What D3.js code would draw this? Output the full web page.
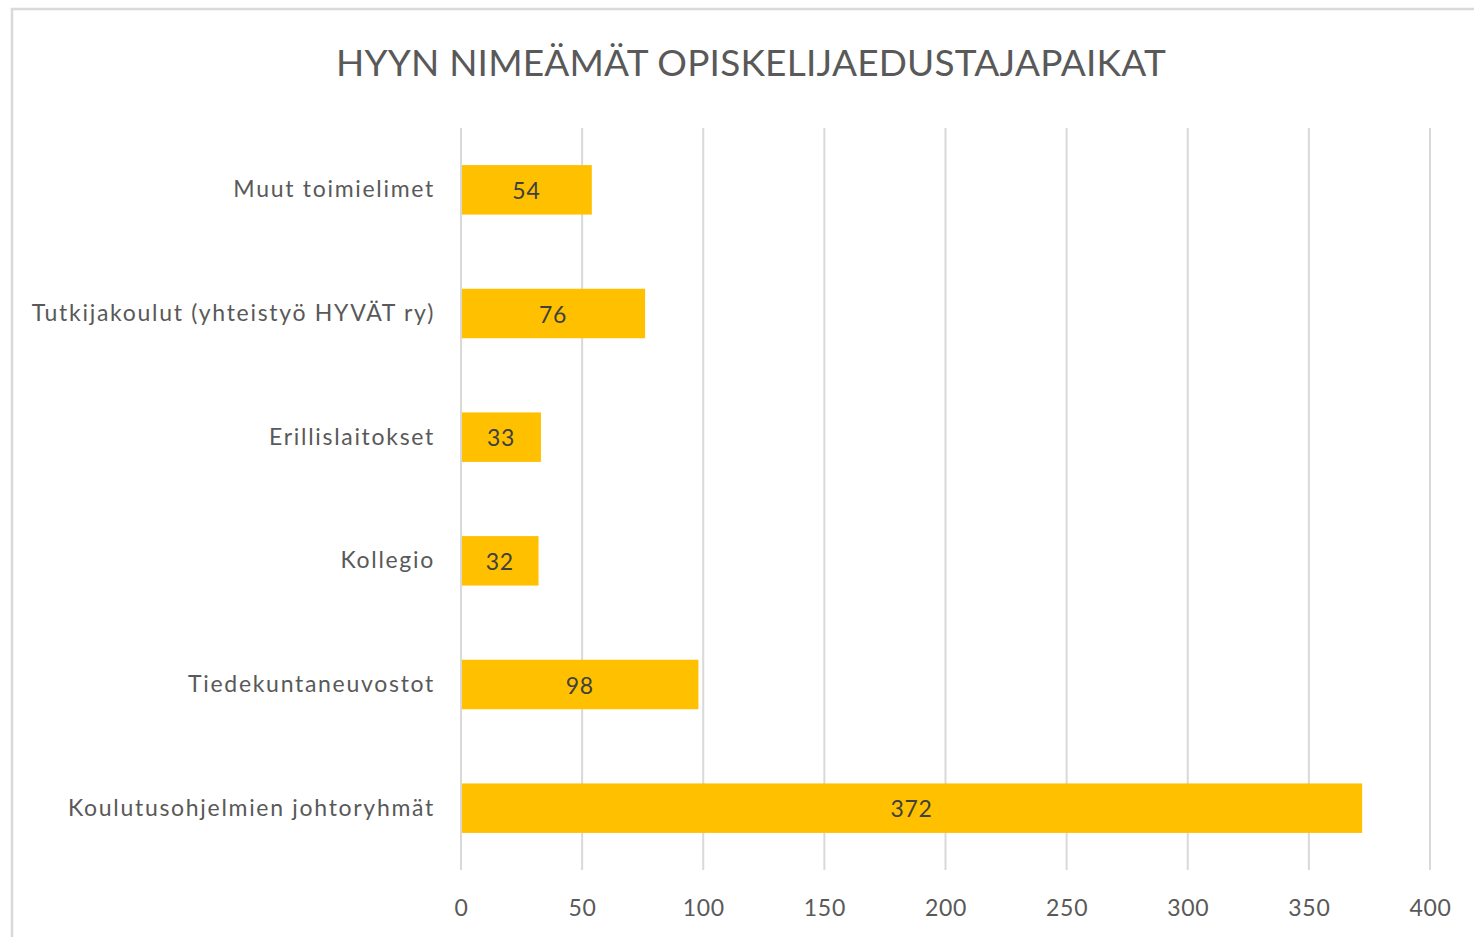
<!DOCTYPE html>
<html>
<head>
<meta charset="utf-8">
<script src="https://cdn.jsdelivr.net/npm/d3@7"></script>
<style>
  html, body { margin: 0; padding: 0; background: #fff; }
  svg { display: block; }
  text { font-family: Lato, "Open Sans", sans-serif; }
</style>
</head>
<body>
<div id="chart"></div>
<script>
// categories top to bottom, as in the picture
const categories = [
    "Muut toimielimet",
    "Tutkijakoulut (yhteistyö HYVÄT ry)",
    "Erillislaitokset",
    "Kollegio",
    "Tiedekuntaneuvostot",
    "Koulutusohjelmien johtoryhmät"
];
const values = [54, 76, 33, 32, 98, 372];
const xTicks = [0, 50, 100, 150, 200, 250, 300, 350, 400];
const title = "HYYN NIMEÄMÄT OPISKELIJAEDUSTAJAPAIKAT";

const W = 1474, H = 937;
const margin = { top: 128, right: 44, bottom: 67, left: 461 };
const width = W - margin.left - margin.right;
const height = H - margin.top - margin.bottom;

const svg = d3.select("#chart").append("svg")
    .attr("width", W)
    .attr("height", H);

// chart frame (runs off the right and bottom edge)
svg.append("rect")
    .attr("x", 12)
    .attr("y", 9)
    .attr("width", W + 20)
    .attr("height", H + 20)
    .attr("fill", "#fff")
    .attr("stroke", "#d9d9d9")
    .attr("stroke-width", 2.5);

svg.append("text")
    .attr("x", 751)
    .attr("y", 67)
    .attr("text-anchor", "middle")
    .attr("dominant-baseline", "middle")
    .attr("fill", "#595959")
    .style("font-size", "37px")
    .style("letter-spacing", "0.2px")
    .text(title);

const g = svg.append("g")
    .attr("transform", "translate(" + margin.left + "," + margin.top + ")");

const x = d3.scaleLinear()
    .domain([0, 400])
    .range([0, width]);

const y = d3.scaleBand()
    .domain(categories)
    .range([0, height])
    .paddingInner(0.6)
    .paddingOuter(0.3);

// vertical gridlines
g.selectAll(".grid")
    .data(xTicks)
    .enter().append("line")
    .attr("class", "grid")
    .attr("x1", d => x(d))
    .attr("x2", d => x(d))
    .attr("y1", 0)
    .attr("y2", height)
    .attr("stroke", "#d9d9d9")
    .attr("stroke-width", 2);

// x axis labels
const xAxis = d3.axisBottom(x)
    .tickValues(xTicks)
    .tickSize(0)
    .tickPadding(30);

g.append("g")
    .attr("class", "x-axis")
    .attr("transform", "translate(0," + height + ")")
    .call(xAxis)
    .call(a => a.select(".domain").remove())
    .selectAll("text")
    .attr("fill", "#595959")
    .style("font-size", "23px")
    .style("letter-spacing", "0.7px");

// y axis labels
const yAxis = d3.axisLeft(y)
    .tickSize(0)
    .tickPadding(26);

g.append("g")
    .attr("class", "y-axis")
    .call(yAxis)
    .call(a => a.select(".domain").remove())
    .selectAll("text")
    .attr("fill", "#595959")
    .style("font-size", "23px")
    .style("letter-spacing", "1.7px");

// bars
g.selectAll(".bar")
    .data(values)
    .enter().append("rect")
    .attr("class", "bar")
    .attr("x", x(0) + 1)
    .attr("y", (d, i) => y(categories[i]))
    .attr("width", d => x(d) - x(0) - 1)
    .attr("height", y.bandwidth())
    .attr("fill", "#ffc000");

// value labels in bar centres
g.selectAll(".val")
    .data(values)
    .enter().append("text")
    .attr("class", "val")
    .attr("x", d => x(d / 2))
    .attr("y", (d, i) => y(categories[i]) + y.bandwidth() / 2)
    .attr("text-anchor", "middle")
    .attr("dominant-baseline", "central")
    .attr("fill", "#404040")
    .style("font-size", "23px")
    .style("letter-spacing", "0.7px")
    .text(d => d);
</script>
</body>
</html>
